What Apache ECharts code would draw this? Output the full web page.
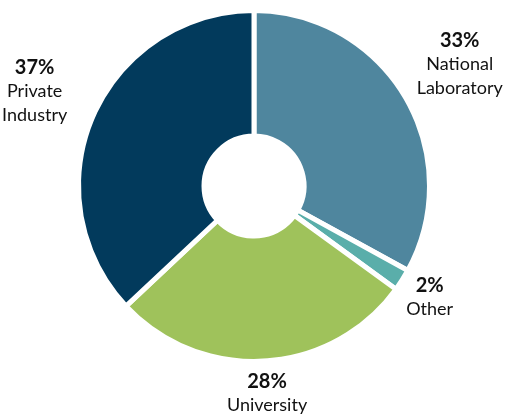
<!DOCTYPE html>
<html>
<head>
<meta charset="utf-8">
<script src="https://cdn.jsdelivr.net/npm/echarts@6/dist/echarts.min.js"></script>
<style>
  html, body { margin: 0; padding: 0; background: #fff; }
  #chart { width: 505px; height: 418px; }
</style>
</head>
<body>
<div id="chart"></div>
<script>
var categories = ['National\nLaboratory', 'Other', 'University', 'Private\nIndustry'];
var shares = [33, 2, 28, 37];
var colors = ['#4f869e', '#5aaeaa', '#9fc25b', '#023a5c'];

// labels with three lines sit a bit further out than the two line ones
var farRing = [true, false, false, true];

var chart = echarts.init(document.getElementById('chart'));

var pieData = [];
for (var i = 0; i < shares.length; i++) {
    pieData.push({ name: categories[i], value: shares[i], itemStyle: { color: colors[i] } });
}

function labelData(far) {
    var list = [];
    for (var i = 0; i < shares.length; i++) {
        list.push({
            name: categories[i],
            value: shares[i],
            label: { show: farRing[i] === far }
        });
    }
    return list;
}

var labelConfig = {
    show: true,
    position: 'inside',
    formatter: function (p) {
        var lines = p.name.split('\n');
        var txt = '{p|' + p.value + '%}';
        for (var k = 0; k < lines.length; k++) {
            txt += '\n{n|' + lines[k] + '}';
        }
        return txt;
    },
    rich: {
        p: { fontFamily: 'Lato', fontWeight: 'bold', fontSize: 20, color: '#111', lineHeight: 24, align: 'center' },
        n: { fontFamily: 'Lato', fontSize: 18, color: '#111', lineHeight: 24, align: 'center' }
    }
};

var ringStyle = { color: 'transparent', borderWidth: 0 };

chart.setOption({
    animation: false,
    series: [{
        name: 'share',
        type: 'pie',
        center: [254, 186],
        radius: [50, 175.5],
        startAngle: 90,
        clockwise: true,
        silent: true,
        label: { show: false },
        labelLine: { show: false },
        itemStyle: { borderColor: '#fff', borderWidth: 5 },
        data: pieData
    }, {
        name: 'far labels',
        type: 'pie',
        center: [254, 186],
        radius: [226, 246],
        startAngle: 90,
        silent: true,
        itemStyle: ringStyle,
        label: labelConfig,
        labelLine: { show: false },
        data: labelData(true)
    }, {
        name: 'near labels',
        type: 'pie',
        center: [254, 186],
        radius: [195, 215],
        startAngle: 90,
        silent: true,
        itemStyle: ringStyle,
        label: labelConfig,
        labelLine: { show: false },
        data: labelData(false)
    }]
});
</script>
</body>
</html>
